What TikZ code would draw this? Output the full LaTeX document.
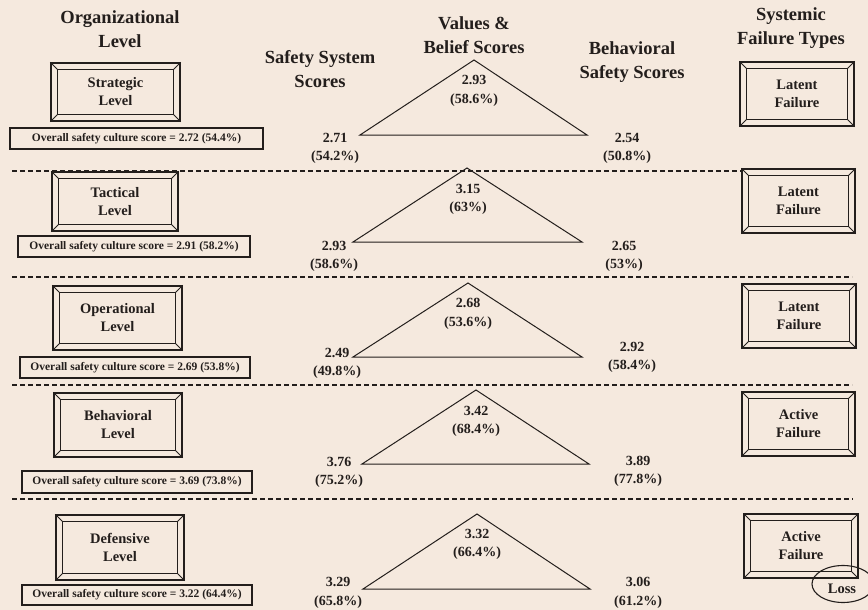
\documentclass[tikz,border=0pt]{standalone}
\usepackage{fontspec}
\setmainfont{Liberation Serif}
\definecolor{paper}{RGB}{245,233,222}
\definecolor{ink}{RGB}{35,30,28}
\begin{document}
\begin{tikzpicture}[x=1pt,y=-1pt,
  every node/.style={text=ink, font=\bfseries},
  header/.style={align=center, font=\fontsize{18.5}{24}\selectfont\bfseries},
  bevel/.style={draw=ink, line width=1.3pt, align=center, inner sep=0pt,
    font=\fontsize{14.5}{18}\selectfont\bfseries},
  innerline/.style={draw=ink, line width=1pt},
  scorebox/.style={draw=ink, line width=1.1pt, inner sep=0pt,
    font=\fontsize{11.5}{14}\selectfont\bfseries},
  value/.style={align=center, font=\fontsize{14}{18.5}\selectfont\bfseries},
  tri/.style={draw=ink, line width=1pt},
  divider/.style={draw=ink, line width=1.2pt, dash pattern=on 5pt off 3pt},
]
% canvas
\fill[paper] (0,0) rectangle (868,610);
\useasboundingbox (0,0) rectangle (868,610);

% column headings
\node[header] (hOrg) at (120,29.5) {Organizational\\Level};
\node[header] (hSys) at (320,69) {Safety System\\Scores};
\node[header] (hVal) at (474,35.5) {Values \&\\Belief Scores};
\node[header] (hBeh) at (632,62) {Behavioral\\Safety Scores};
\node[header] (hFail) at (791,28.5) {Systemic\\Failure Types};

% level boxes
\node[bevel, minimum width=129pt, minimum height=58pt] (lv1) at (115.5,92) {Strategic\\Level};
\node[bevel, minimum width=126pt, minimum height=59pt] (lv2) at (115,201.5) {Tactical\\Level};
\node[bevel, minimum width=129pt, minimum height=64pt] (lv3) at (117.5,318) {Operational\\Level};
\node[bevel, minimum width=128pt, minimum height=64pt] (lv4) at (118,425) {Behavioral\\Level};
\node[bevel, minimum width=128pt, minimum height=65pt] (lv5) at (120,547.5) {Defensive\\Level};

% failure-type boxes
\node[bevel, minimum width=114pt, minimum height=64pt] (fl1) at (797,94) {Latent\\Failure};
\node[bevel, minimum width=113pt, minimum height=64pt] (fl2) at (798.5,201) {Latent\\Failure};
\node[bevel, minimum width=114pt, minimum height=64pt] (fl3) at (799,316) {Latent\\Failure};
\node[bevel, minimum width=113pt, minimum height=64pt] (fl4) at (798.5,424) {Active\\Failure};
\node[bevel, minimum width=114pt, minimum height=64pt] (fl5) at (801,546) {Active\\Failure};

% bevel frames
\foreach \b in {lv1,lv2,lv3,lv4,lv5,fl1,fl2,fl3,fl4,fl5} {
  \draw[innerline] ([shift={(7.5pt,-7.5pt)}]\b.north west) rectangle ([shift={(-7.5pt,7.5pt)}]\b.south east);
  \draw[innerline] (\b.north west) -- ++(7.5pt,-7.5pt);
  \draw[innerline] (\b.north east) -- ++(-7.5pt,-7.5pt);
  \draw[innerline] (\b.south west) -- ++(7.5pt,7.5pt);
  \draw[innerline] (\b.south east) -- ++(-7.5pt,7.5pt);
}

% overall scores
\node[scorebox, minimum width=253pt, minimum height=21pt] (sc1) at (136.5,138.5) {Overall safety culture score = 2.72 (54.4\%)};
\node[scorebox, minimum width=232pt, minimum height=21pt] (sc2) at (134,246.5) {Overall safety culture score = 2.91 (58.2\%)};
\node[scorebox, minimum width=230pt, minimum height=21pt] (sc3) at (135,367.5) {Overall safety culture score = 2.69 (53.8\%)};
\node[scorebox, minimum width=230pt, minimum height=22pt] (sc4) at (137,482) {Overall safety culture score = 3.69 (73.8\%)};
\node[scorebox, minimum width=230pt, minimum height=20pt] (sc5) at (137,595) {Overall safety culture score = 3.22 (64.4\%)};

% score triangles
\coordinate (t1a) at (474,60);  \coordinate (t1b) at (360,135); \coordinate (t1c) at (587,135);
\coordinate (t2a) at (467,168); \coordinate (t2b) at (353,242); \coordinate (t2c) at (582,242);
\coordinate (t3a) at (468,283); \coordinate (t3b) at (353,357); \coordinate (t3c) at (582,357);
\coordinate (t4a) at (476,390); \coordinate (t4b) at (362,464); \coordinate (t4c) at (589,464);
\coordinate (t5a) at (477,514); \coordinate (t5b) at (363,589); \coordinate (t5c) at (590,589);
\foreach \t in {t1,t2,t3,t4,t5} {
  \draw[tri] (\t a) -- (\t b) -- (\t c) -- cycle;
}

% values & belief scores
\node[value] (vb1) at (474,91) {2.93\\(58.6\%)};
\node[value] (vb2) at (468,199.5) {3.15\\(63\%)};
\node[value] (vb3) at (468,314) {2.68\\(53.6\%)};
\node[value] (vb4) at (476,421.5) {3.42\\(68.4\%)};
\node[value] (vb5) at (477,544.5) {3.32\\(66.4\%)};

% safety system scores
\node[value] (ss1) at (335,148.5) {2.71\\(54.2\%)};
\node[value] (ss2) at (334,256.5) {2.93\\(58.6\%)};
\node[value] (ss3) at (337,363.5) {2.49\\(49.8\%)};
\node[value] (ss4) at (339,472.5) {3.76\\(75.2\%)};
\node[value] (ss5) at (338,593) {3.29\\(65.8\%)};

% behavioral safety scores
\node[value] (bs1) at (627,148.5) {2.54\\(50.8\%)};
\node[value] (bs2) at (624,256.5) {2.65\\(53\%)};
\node[value] (bs3) at (632,357.5) {2.92\\(58.4\%)};
\node[value] (bs4) at (638,471.5) {3.89\\(77.8\%)};
\node[value] (bs5) at (638,593) {3.06\\(61.2\%)};

% level dividers
\coordinate (d1l) at (12,171); \coordinate (d1r) at (742,171);
\coordinate (d2l) at (12,277); \coordinate (d2r) at (852,277);
\coordinate (d3l) at (12,385); \coordinate (d3r) at (852,385);
\coordinate (d4l) at (12,499); \coordinate (d4r) at (853,499);
\foreach \d in {d1,d2,d3,d4} {
  \draw[divider] (\d l) -- (\d r);
}

% loss marker
\draw[ink, line width=1.1pt] (843,584) ellipse [x radius=31pt, y radius=18.5pt];
\node[font=\fontsize{14.5}{17}\selectfont\bfseries] (loss) at (842,589) {Loss};
\end{tikzpicture}
\end{document}
